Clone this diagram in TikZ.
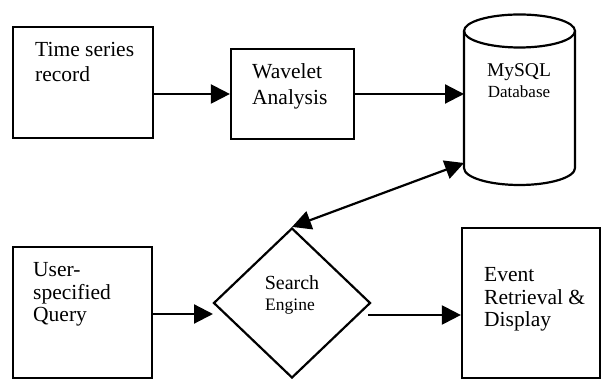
\documentclass[tikz,border=0pt]{standalone}
\usepackage{fontspec}
\setmainfont{Liberation Serif}
\usetikzlibrary{arrows.meta,shapes.geometric}
\begin{document}
\begin{tikzpicture}[x=1pt,y=1pt,
  boxshape/.style={draw,line width=2.2pt,rectangle,inner sep=0pt},
  txt/.style={anchor=base west,inner sep=0pt,font=\fontsize{21.5}{25}\selectfont},
  ctxt/.style={anchor=base,inner sep=0pt},
  arr/.style={line width=2.2pt,-{Triangle[length=19pt,width=19pt]}},
  darr/.style={line width=2.2pt,{Triangle[length=19pt,width=19pt]}-{Triangle[length=19pt,width=19pt]}}]
\useasboundingbox (0,0) rectangle (602,379);
% boxes
\node[boxshape,minimum width=140pt,minimum height=111pt] (ts) at (83,296.5) {};
\node[boxshape,minimum width=123pt,minimum height=90pt] (wa) at (292.5,285) {};
\node[boxshape,minimum width=139pt,minimum height=131pt] (uq) at (82.5,66.5) {};
\node[boxshape,minimum width=138pt,minimum height=150pt] (ev) at (531,76) {};
\node[draw,line width=2.2pt,diamond,inner sep=0pt,minimum width=157pt,minimum height=150pt] (se) at (292,76) {};
% cylinder
\draw[line width=2.2pt] (519.5,348) ellipse [x radius=55.5, y radius=16.5];
\draw[line width=2.2pt] (464,348) -- (464,211) arc [start angle=180, end angle=360, x radius=55.5, y radius=17] -- (575,348);
\coordinate (dbW) at (464,285);
\coordinate (dbSW) at (464,216);
% texts
\node[txt] (t1) at (35,322) {Time series};
\node[txt] (t2) at (35,297) {record};
\node[txt] (t3) at (252,300) {Wavelet};
\node[txt] (t4) at (252,274) {Analysis};
\node[ctxt,font=\fontsize{19.5}{23}\selectfont] (t5) at (519,302) {MySQL};
\node[ctxt,font=\fontsize{17}{21}\selectfont] (t6) at (519,281) {Database};
\node[ctxt,font=\fontsize{20}{24}\selectfont] (t7) at (292,89) {Search};
\node[ctxt,font=\fontsize{17.5}{21}\selectfont] (t8) at (290,68) {Engine};
\node[txt] (t9) at (33,102) {User-};
\node[txt] (t10) at (33,79) {specified};
\node[txt] (t11) at (33,57) {Query};
\node[txt] (t12) at (484,97) {Event};
\node[txt] (t13) at (484,74) {Retrieval \&};
\node[txt] (t14) at (484,52) {Display};
% connectors
\coordinate (qIn) at (213,65);
\coordinate (sOut) at (368,64);
\draw[arr] (ts.east |- wa.west) -- (wa.west);
\draw[arr] (wa.east) -- (dbW);
\draw[darr] (dbSW) -- (se.north);
\draw[arr] (uq.east |- qIn) -- (qIn);
\draw[arr] (sOut) -- (ev.west |- sOut);
\end{tikzpicture}
\end{document}
